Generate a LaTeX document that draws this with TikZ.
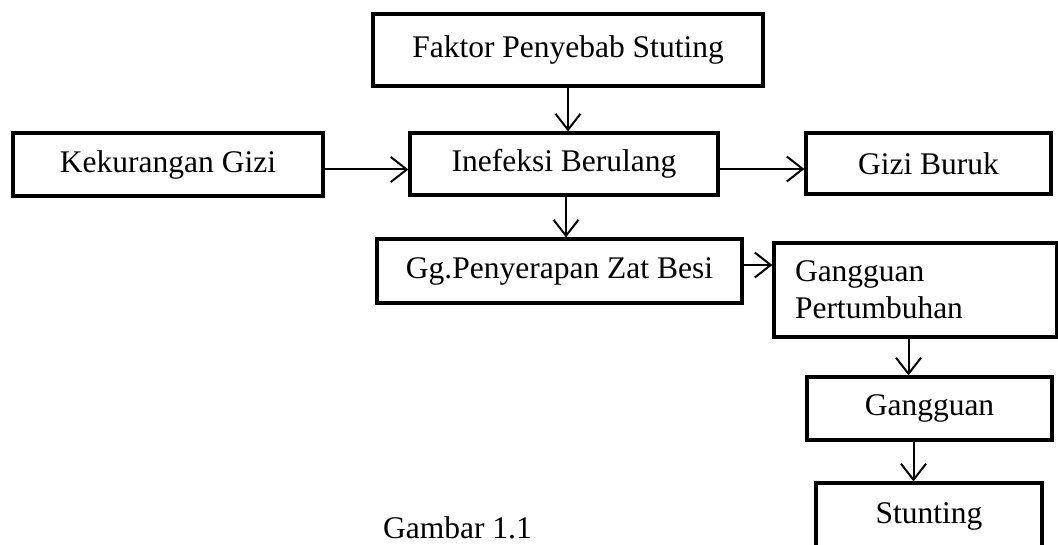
\documentclass[tikz,border=0pt]{standalone}
\usepackage{fontspec}
\setmainfont{Liberation Serif}
\usepackage{tikz}
\usetikzlibrary{
  positioning,
  arrows.meta,
  calc
}
\tikzset{
  % Box of the flow chart
  block/.style={
    rectangle,
    draw=black,
    line width=3.2pt,
    inner sep=0pt,
    font=\fontsize{31.5}{37}\selectfont
  },
  % Connector
  arr/.style={
    draw=black,
    line width=2pt,
    -{Straight Barb[length=16pt,width=25pt,line width=2pt]}
  },
  % Caption text
  caption/.style={
    font=\fontsize{31.5}{37}\selectfont
  }
}

\begin{document}
\begin{tikzpicture}[x=1pt,y=-1pt]
  \clip (0,0) rectangle (1058,545);
  \fill[white] (0,0) rectangle (1058,545);

  % The boxes
  \node[block, minimum width=390, minimum height=72] (faktor)   at (568, 50)    {Faktor Penyebab Stuting};
  \node[block, minimum width=310, minimum height=63] (kurang)   at (168, 164.5) {Kekurangan Gizi};
  \node[block, minimum width=308, minimum height=62] (infeksi)  at (564, 164)   {Inefeksi Berulang};
  \node[block, minimum width=245, minimum height=61] (buruk)    at (928.5, 163.5) {Gizi Buruk};
  \node[block, minimum width=365, minimum height=64] (serap)    at (559.5, 271) {Gg.Penyerapan Zat Besi};
  \node[block, minimum width=283, minimum height=94, text width=241, align=left] (tumbuh) at (915.5, 290) {Gangguan\\Pertumbuhan};
  \node[block, minimum width=245, minimum height=63] (gangguan) at (929.5, 408.5) {Gangguan};
  \node[block, minimum width=226, minimum height=66] (stunting) at (929, 516)   {Stunting};

  % Connectors
  \draw[arr] (faktor.south) -- (faktor.south |- infeksi.north);
  \draw[arr] ([yshift=-5pt]kurang.east) -- ([yshift=-5pt]kurang.east -| infeksi.west);
  \draw[arr] ([yshift=-5pt]infeksi.east) -- ([yshift=-5pt]infeksi.east -| buruk.west);
  \draw[arr] ([xshift=2pt]infeksi.south) -- ([xshift=2pt]infeksi.south |- serap.north);
  \draw[arr] ([yshift=6pt]serap.east) -- ([yshift=6pt]serap.east -| tumbuh.west);
  \draw[arr] ([xshift=-7pt]tumbuh.south) -- ([xshift=-7pt]tumbuh.south |- gangguan.north);
  \draw[arr] ([xshift=-16pt]gangguan.south) -- ([xshift=-16pt]gangguan.south |- stunting.north);

  % Caption
  \node[caption, anchor=base] (gambar) at (457.5, 538) {Gambar 1.1};
\end{tikzpicture}
\end{document}
